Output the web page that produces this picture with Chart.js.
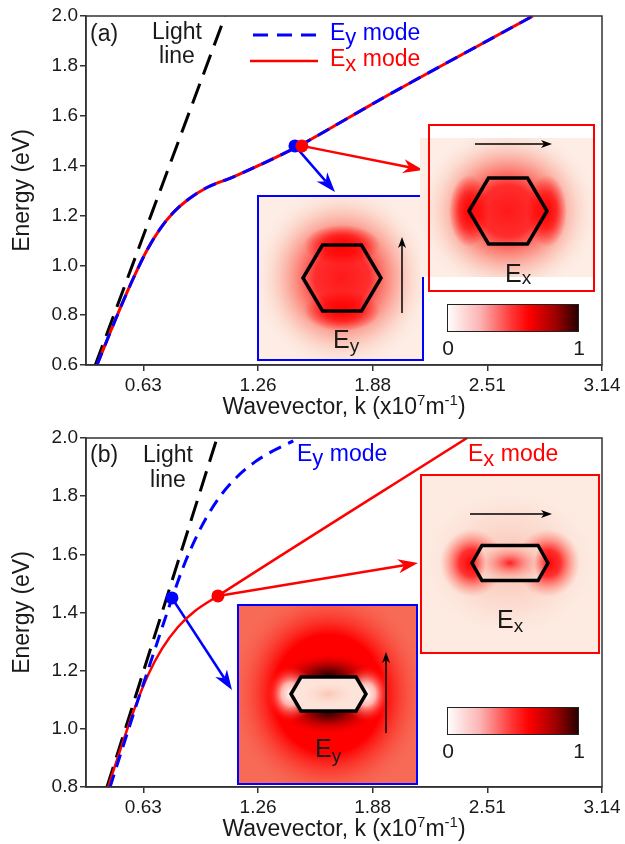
<!DOCTYPE html>
<html>
<head>
<meta charset="utf-8">
<script src="https://cdn.jsdelivr.net/npm/chart.js@4.4.1/dist/chart.umd.min.js"></script>
<style>
  html, body { margin: 0; padding: 0; background: #fff; }
  canvas { display: block; }
</style>
</head>
<body>
<canvas id="panelA" width="625" height="422"></canvas>
<canvas id="panelB" width="625" height="422"></canvas>
<script>
// ---- values (k in 1e7 m^-1, E in eV) ----
const xTicks = [0.628, 1.257, 1.885, 2.513, 3.142];
const xTickLabels = ['0.63', '1.26', '1.88', '2.51', '3.14'];
const yTicksA = [0.6, 0.8, 1.0, 1.2, 1.4, 1.6, 1.8, 2.0];
const yTickLabelsA = ['0.6', '0.8', '1.0', '1.2', '1.4', '1.6', '1.8', '2.0'];
const yTicksB = [0.8, 1.0, 1.2, 1.4, 1.6, 1.8, 2.0];
const yTickLabelsB = ['0.8', '1.0', '1.2', '1.4', '1.6', '1.8', '2.0'];

// panel (a): Ey and Ex modes fall on the same curve
const lightKA = [0.365, 1.076];
const lightEA = [0.6, 2.0];
const modeKA = [0.374, 0.445, 0.500, 0.571, 0.648, 0.719, 0.790, 0.870, 0.977, 1.119, 1.470, 1.772, 1.963, 2.763];
const modeEA = [0.6, 0.728, 0.825, 0.944, 1.060, 1.145, 1.210, 1.262, 1.312, 1.354, 1.475, 1.600, 1.680, 2.0];
const dotKA = [1.459, 1.497];   // Ey, Ex
const dotEA = [1.479, 1.479];

// panel (b)
const lightKB = [0.429, 1.032];
const lightEB = [0.8, 2.0];
const eyKB = [0.446, 0.530, 0.610, 0.690, 0.740, 0.785, 0.846, 0.911, 0.977, 1.059, 1.141, 1.240, 1.340, 1.450];
const eyEB = [0.8, 0.965, 1.120, 1.270, 1.365, 1.448, 1.555, 1.650, 1.730, 1.808, 1.866, 1.918, 1.956, 1.990];
const exKB = [0.435, 0.511, 0.583, 0.654, 0.730, 0.818, 0.911, 1.037, 2.402];
const exEB = [0.8, 0.945, 1.075, 1.185, 1.275, 1.350, 1.405, 1.457, 2.0];
const dotKB = [0.785, 1.037];   // Ey, Ex
const dotEB = [1.450, 1.457];

const FONT = '"Liberation Sans", Arial, sans-serif';
const BLUE = '#0000ff';
const RED = '#ff0000';

const pts = (ks, es) => ks.map((k, i) => ({ x: k, y: es[i] }));

// ---- drawing helpers ----
function glow(ctx, x, y, rx, ry, stops) {
    ctx.save();
    ctx.translate(x, y);
    ctx.scale(rx, ry);
    const g = ctx.createRadialGradient(0, 0, 0, 0, 0, 1);
    stops.forEach(s => g.addColorStop(s[0], s[1]));
    ctx.fillStyle = g;
    ctx.fillRect(-1, -1, 2, 2);
    ctx.restore();
}

function hexPath(ctx, cx, cy, h) {
    ctx.beginPath();
    ctx.moveTo(cx - h.hw, cy);
    ctx.lineTo(cx - h.thw, cy - h.hh);
    ctx.lineTo(cx + h.thw, cy - h.hh);
    ctx.lineTo(cx + h.hw, cy);
    ctx.lineTo(cx + h.thw, cy + h.hh);
    ctx.lineTo(cx - h.thw, cy + h.hh);
    ctx.closePath();
}

function arrow(ctx, x0, y0, x1, y1, color, lw, len, half, notch) {
    const a = Math.atan2(y1 - y0, x1 - x0);
    ctx.save();
    ctx.strokeStyle = color;
    ctx.fillStyle = color;
    ctx.lineWidth = lw;
    ctx.beginPath();
    ctx.moveTo(x0, y0);
    ctx.lineTo(x1 - Math.cos(a) * (len - notch), y1 - Math.sin(a) * (len - notch));
    ctx.stroke();
    ctx.translate(x1, y1);
    ctx.rotate(a);
    ctx.beginPath();
    ctx.moveTo(0, 0);
    ctx.lineTo(-len, -half);
    ctx.lineTo(-len + notch, 0);
    ctx.lineTo(-len, half);
    ctx.closePath();
    ctx.fill();
    ctx.restore();
}

function subText(ctx, x, y, main, sub, rest, size, subSize, dy, color, align) {
    ctx.save();
    ctx.fillStyle = color;
    ctx.textBaseline = 'alphabetic';
    ctx.textAlign = 'left';
    ctx.font = size + 'px ' + FONT;
    const w1 = ctx.measureText(main).width;
    const w3 = rest ? ctx.measureText(rest).width : 0;
    ctx.font = subSize + 'px ' + FONT;
    const w2 = ctx.measureText(sub).width;
    let x0 = x;
    if (align === 'center') x0 = x - (w1 + w2 + w3) / 2;
    ctx.font = size + 'px ' + FONT;
    ctx.fillText(main, x0, y);
    ctx.font = subSize + 'px ' + FONT;
    ctx.fillText(sub, x0 + w1, y + dy);
    if (rest) {
        ctx.font = size + 'px ' + FONT;
        ctx.fillText(rest, x0 + w1 + w2, y);
    }
    ctx.restore();
}

function plainText(ctx, txt, x, y, size, color, align) {
    ctx.save();
    ctx.font = size + 'px ' + FONT;
    ctx.fillStyle = color;
    ctx.textAlign = align || 'left';
    ctx.textBaseline = 'alphabetic';
    ctx.fillText(txt, x, y);
    ctx.restore();
}

function xTitle(chart) {
    const ctx = chart.ctx;
    const parts = [['Wavevector, k (x10', 23, 0], ['7', 15, -9], ['m', 23, 0], ['-1', 15, -9], [')', 23, 0]];
    ctx.save();
    ctx.fillStyle = '#1a1a1a';
    ctx.textBaseline = 'alphabetic';
    let total = 0;
    parts.forEach(p => { ctx.font = p[1] + 'px ' + FONT; total += ctx.measureText(p[0]).width; });
    const ca = chart.chartArea;
    let x = (ca.left + ca.right) / 2 - total / 2;
    parts.forEach(p => {
        ctx.font = p[1] + 'px ' + FONT;
        ctx.fillText(p[0], x, 414 + p[2]);
        x += ctx.measureText(p[0]).width;
    });
    ctx.restore();
}

function colorbar(ctx, r, y0) {
    const g = ctx.createLinearGradient(r.x, 0, r.x + r.w, 0);
    g.addColorStop(0, '#ffffff');
    g.addColorStop(0.25, '#fbb4b4');
    g.addColorStop(0.48, '#ff3a3a');
    g.addColorStop(0.62, '#ff0000');
    g.addColorStop(0.82, '#a00000');
    g.addColorStop(1, '#240000');
    ctx.fillStyle = g;
    ctx.fillRect(r.x, r.y, r.w, r.h);
    ctx.strokeStyle = '#222';
    ctx.lineWidth = 1;
    ctx.strokeRect(r.x + 0.5, r.y + 0.5, r.w - 1, r.h - 1);
    plainText(ctx, '0', r.x + 1, y0, 21, '#1a1a1a', 'center');
    plainText(ctx, '1', r.x + r.w, y0, 21, '#1a1a1a', 'center');
}

function frameBox(ctx, r, color) {
    ctx.strokeStyle = color;
    ctx.lineWidth = 2;
    ctx.strokeRect(r.x, r.y, r.w, r.h);
}

function hexStroke(ctx, cx, cy, h, lw) {
    hexPath(ctx, cx, cy, h);
    ctx.strokeStyle = '#000';
    ctx.lineWidth = lw;
    ctx.lineJoin = 'miter';
    ctx.stroke();
}

// ---- field maps, panel (a) ----
function insetsA(ctx) {
    const h = { hw: 39, thw: 19.5, hh: 33 };
    // Ey map
    let r = { x: 258, y: 196, w: 165, h: 164 }, cx = 342, cy = 278;
    ctx.save();
    ctx.beginPath(); ctx.rect(r.x, r.y, r.w, r.h); ctx.clip();
    ctx.fillStyle = '#fdede5';
    ctx.fillRect(r.x, r.y, r.w, r.h);
    glow(ctx, cx, cy, 90, 94, [[0, 'rgba(255,25,25,1)'], [0.3, 'rgba(255,35,35,0.95)'], [0.55, 'rgba(250,120,105,0.7)'], [0.8, 'rgba(251,200,185,0.4)'], [1, 'rgba(253,237,229,0)']]);
    glow(ctx, cx, cy - h.hh, 38, 20, [[0, 'rgba(255,0,0,1)'], [0.5, 'rgba(255,0,0,0.7)'], [1, 'rgba(255,0,0,0)']]);
    glow(ctx, cx, cy + h.hh, 38, 20, [[0, 'rgba(255,0,0,1)'], [0.5, 'rgba(255,0,0,0.7)'], [1, 'rgba(255,0,0,0)']]);
    ctx.restore();
    frameBox(ctx, r, BLUE);
    hexStroke(ctx, cx, cy, h, 3.5);
    arrow(ctx, 402, 313, 402, 237, '#000', 1.5, 11, 4, 3);
    subText(ctx, 333, 348, 'E', 'y', '', 25, 19, 4, '#1a1a1a');

    // Ex map
    r = { x: 429, y: 125, w: 165, h: 166 }; cx = 508; cy = 211;
    ctx.save();
    ctx.beginPath(); ctx.rect(420, 138, 173, 139); ctx.clip();
    ctx.fillStyle = '#fdede5';
    ctx.fillRect(420, 138, 173, 139);
    glow(ctx, cx, cy, 92, 86, [[0, 'rgba(255,25,25,1)'], [0.3, 'rgba(255,35,35,0.95)'], [0.55, 'rgba(250,120,105,0.7)'], [0.8, 'rgba(251,200,185,0.4)'], [1, 'rgba(253,237,229,0)']]);
    glow(ctx, cx - h.hw, cy, 20, 36, [[0, 'rgba(255,0,0,1)'], [0.5, 'rgba(255,0,0,0.7)'], [1, 'rgba(255,0,0,0)']]);
    glow(ctx, cx + h.hw, cy, 20, 36, [[0, 'rgba(255,0,0,1)'], [0.5, 'rgba(255,0,0,0.7)'], [1, 'rgba(255,0,0,0)']]);
    ctx.restore();
    frameBox(ctx, r, RED);
    hexStroke(ctx, cx, cy, h, 3.5);
    arrow(ctx, 475, 144, 552, 144, '#000', 1.5, 11, 4, 3);
    subText(ctx, 505, 282, 'E', 'x', '', 25, 19, 2, '#1a1a1a');

    colorbar(ctx, { x: 447, y: 304, w: 132, h: 28 }, 355);
}

// ---- field maps, panel (b) ----
function insetsB(ctx) {
    // Ey map, strong confinement
    let h = { hw: 37.5, thw: 27.5, hh: 17 };
    let r = { x: 238, y: 183, w: 179, h: 179 }, cx = 328.5, cy = 272;
    ctx.save();
    ctx.beginPath(); ctx.rect(r.x, r.y, r.w, r.h); ctx.clip();
    ctx.fillStyle = '#f76a56';
    ctx.fillRect(r.x, r.y, r.w, r.h);
    glow(ctx, cx, cy, 100, 108, [[0, 'rgba(255,0,0,1)'], [0.55, 'rgba(255,0,0,1)'], [1, 'rgba(247,106,86,0)']]);
    glow(ctx, cx, cy - h.hh - 1, 50, 24, [[0, 'rgba(40,0,0,1)'], [0.35, 'rgba(130,0,0,0.9)'], [1, 'rgba(255,0,0,0)']]);
    glow(ctx, cx, cy + h.hh + 1, 50, 24, [[0, 'rgba(40,0,0,1)'], [0.35, 'rgba(130,0,0,0.9)'], [1, 'rgba(255,0,0,0)']]);
    glow(ctx, cx - h.hw, cy, 24, 28, [[0, 'rgba(255,255,255,1)'], [0.4, 'rgba(255,215,205,0.85)'], [1, 'rgba(255,40,30,0)']]);
    glow(ctx, cx + h.hw, cy, 24, 28, [[0, 'rgba(255,255,255,1)'], [0.4, 'rgba(255,215,205,0.85)'], [1, 'rgba(255,40,30,0)']]);
    hexPath(ctx, cx, cy, h);
    ctx.fillStyle = '#fde4da';
    ctx.fill();
    glow(ctx, cx, cy, 30, 14, [[0, 'rgba(250,195,175,0.9)'], [1, 'rgba(253,228,218,0)']]);
    ctx.restore();
    frameBox(ctx, r, BLUE);
    hexStroke(ctx, cx, cy, h, 3.5);
    arrow(ctx, 386, 311, 386, 230, '#000', 1.5, 11, 4, 3);
    subText(ctx, 315, 335, 'E', 'y', '', 25, 19, 5, '#1a1a1a');

    // Ex map
    h = { hw: 38, thw: 28, hh: 17.5 };
    r = { x: 421, y: 53, w: 178, h: 178 }; cx = 510; cy = 141;
    ctx.save();
    ctx.beginPath(); ctx.rect(r.x, r.y, r.w, r.h); ctx.clip();
    ctx.fillStyle = '#fdebe2';
    ctx.fillRect(r.x, r.y, r.w, r.h);
    glow(ctx, cx, cy, 95, 80, [[0, 'rgba(248,150,130,0.55)'], [0.6, 'rgba(250,200,185,0.35)'], [1, 'rgba(253,235,226,0)']]);
    glow(ctx, cx - h.hw, cy, 32, 34, [[0, 'rgba(255,0,0,1)'], [0.4, 'rgba(255,20,20,0.85)'], [1, 'rgba(255,120,100,0)']]);
    glow(ctx, cx + h.hw, cy, 32, 34, [[0, 'rgba(255,0,0,1)'], [0.4, 'rgba(255,20,20,0.85)'], [1, 'rgba(255,120,100,0)']]);
    hexPath(ctx, cx, cy, h);
    ctx.save();
    ctx.clip();
    ctx.fillStyle = '#fbd2c6';
    ctx.fillRect(cx - h.hw, cy - h.hh, 2 * h.hw, 2 * h.hh);
    glow(ctx, cx, cy, 34, 20, [[0, 'rgba(255,20,20,0.95)'], [1, 'rgba(252,180,165,0)']]);
    glow(ctx, cx - h.hw, cy, 14, 20, [[0, 'rgba(255,0,0,0.9)'], [1, 'rgba(255,0,0,0)']]);
    glow(ctx, cx + h.hw, cy, 14, 20, [[0, 'rgba(255,0,0,0.9)'], [1, 'rgba(255,0,0,0)']]);
    ctx.restore();
    ctx.restore();
    frameBox(ctx, r, RED);
    hexStroke(ctx, cx, cy, h, 3.5);
    arrow(ctx, 470, 92, 552, 92, '#000', 1.5, 11, 4, 3);
    subText(ctx, 497, 206, 'E', 'x', '', 25, 19, 4, '#1a1a1a');

    colorbar(ctx, { x: 447, y: 285, w: 132, h: 28 }, 336);
}

// ---- shared chart setup ----
function scales(yMin, yMax, yTicks, yLabels) {
    return {
        x: {
            type: 'linear', min: 0.314, max: 3.1416,
            afterBuildTicks: s => { s.ticks = xTicks.map(v => ({ value: v })); },
            afterFit: s => { s.height = 57; },
            ticks: { callback: (v, i) => xTickLabels[i], font: { family: FONT, size: 19 }, color: '#1a1a1a', padding: 3, maxRotation: 0, autoSkip: false },
            grid: { drawOnChartArea: false, tickLength: 6, color: '#333', lineWidth: 1.5 },
            border: { color: '#333', width: 1.5 }
        },
        y: {
            type: 'linear', min: yMin, max: yMax,
            afterBuildTicks: s => { s.ticks = yTicks.map(v => ({ value: v })); },
            afterFit: s => { s.width = 86; },
            ticks: { callback: (v, i) => yLabels[i], font: { family: FONT, size: 19 }, color: '#1a1a1a', padding: 2, autoSkip: false },
            grid: { drawOnChartArea: false, tickLength: 6, color: '#333', lineWidth: 1.5 },
            border: { color: '#333', width: 1.5 },
            title: { display: true, text: 'Energy (eV)', font: { family: FONT, size: 23 }, color: '#1a1a1a', padding: { top: 9, bottom: 0 } }
        }
    };
}

function lineSet(label, data, color, dash, width, order) {
    return {
        label: label, data: data, showLine: true, borderColor: color, borderWidth: width,
        borderDash: dash, pointRadius: 0, fill: false, order: order,
        cubicInterpolationMode: 'monotone'
    };
}

function dotSet(ks, es, order) {
    return {
        label: 'points', data: pts(ks, es), showLine: false, pointRadius: 6.5,
        pointBackgroundColor: [BLUE, RED], pointBorderWidth: 0, order: order
    };
}

function overlay(id, dotK, dotE, tips, drawInsets, drawLabels) {
    return {
        id: id,
        beforeDatasetsDraw(chart) {
            const ctx = chart.ctx, sx = chart.scales.x, sy = chart.scales.y;
            const colors = [BLUE, RED];
            dotK.forEach((k, i) => {
                arrow(ctx, sx.getPixelForValue(k), sy.getPixelForValue(dotE[i]), tips[i][0], tips[i][1], colors[i], 2.5, 20, 7, 6);
            });
        },
        afterDatasetsDraw(chart) {
            drawInsets(chart.ctx);
        },
        afterDraw(chart) {
            const ctx = chart.ctx, ca = chart.chartArea;
            ctx.save();
            ctx.strokeStyle = '#333';
            ctx.lineWidth = 1.5;
            ctx.strokeRect(ca.left, ca.top, ca.right - ca.left, ca.bottom - ca.top);
            ctx.restore();
            drawLabels(ctx);
            xTitle(chart);
        }
    };
}

const common = {
    responsive: false,
    animation: false,
    layout: { padding: { top: 16, right: 23, left: 0, bottom: 0 } },
    plugins: { legend: { display: false }, tooltip: { enabled: false } }
};

// ===== PANEL (a) =====
new Chart(document.getElementById('panelA'), {
    type: 'scatter',
    data: {
        datasets: [
            dotSet(dotKA, dotEA, 0),
            lineSet('Ey mode', pts(modeKA, modeEA), BLUE, [13, 8], 3, 1),
            lineSet('Ex mode', pts(modeKA, modeEA), RED, [], 3, 2),
            lineSet('Light line', pts(lightKA, lightEA), '#000', [21, 10], 3, 3)
        ]
    },
    options: Object.assign({}, common, { scales: scales(0.6, 2.0, yTicksA, yTickLabelsA) }),
    plugins: [overlay('overlayA', dotKA, dotEA, [[335, 192], [423, 170]], insetsA, ctx => {
        plainText(ctx, '(a)', 90, 41, 23, '#1a1a1a');
        plainText(ctx, 'Light', 177, 39, 23, '#1a1a1a', 'center');
        plainText(ctx, 'line', 177, 63, 23, '#1a1a1a', 'center');
        ctx.save();
        ctx.lineWidth = 3;
        ctx.strokeStyle = BLUE;
        ctx.setLineDash([15, 9]);
        ctx.beginPath(); ctx.moveTo(253, 35); ctx.lineTo(317, 35); ctx.stroke();
        ctx.setLineDash([]);
        ctx.strokeStyle = RED;
        ctx.lineWidth = 2.5;
        ctx.beginPath(); ctx.moveTo(250, 61); ctx.lineTo(318, 61); ctx.stroke();
        ctx.restore();
        subText(ctx, 330, 40, 'E', 'y', ' mode', 23, 22, 4, BLUE);
        subText(ctx, 330, 66, 'E', 'x', ' mode', 23, 22, 5, RED);
    })]
});

// ===== PANEL (b) =====
new Chart(document.getElementById('panelB'), {
    type: 'scatter',
    data: {
        datasets: [
            dotSet(dotKB, dotEB, 0),
            lineSet('Ey mode', pts(eyKB, eyEB), BLUE, [13, 8], 3, 1),
            lineSet('Ex mode', pts(exKB, exEB), RED, [], 2.5, 2),
            lineSet('Light line', pts(lightKB, lightEB), '#000', [21, 10], 3, 3)
        ]
    },
    options: Object.assign({}, common, { scales: scales(0.8, 2.0, yTicksB, yTickLabelsB) }),
    plugins: [overlay('overlayB', dotKB, dotEB, [[232, 268], [418, 141]], insetsB, ctx => {
        plainText(ctx, '(b)', 90, 40, 23, '#1a1a1a');
        plainText(ctx, 'Light', 168, 40, 23, '#1a1a1a', 'center');
        plainText(ctx, 'line', 168, 65, 23, '#1a1a1a', 'center');
        subText(ctx, 297, 39, 'E', 'y', ' mode', 23, 22, 4, BLUE);
        subText(ctx, 468, 39, 'E', 'x', ' mode', 23, 22, 5, RED);
    })]
});
</script>
</body>
</html>
